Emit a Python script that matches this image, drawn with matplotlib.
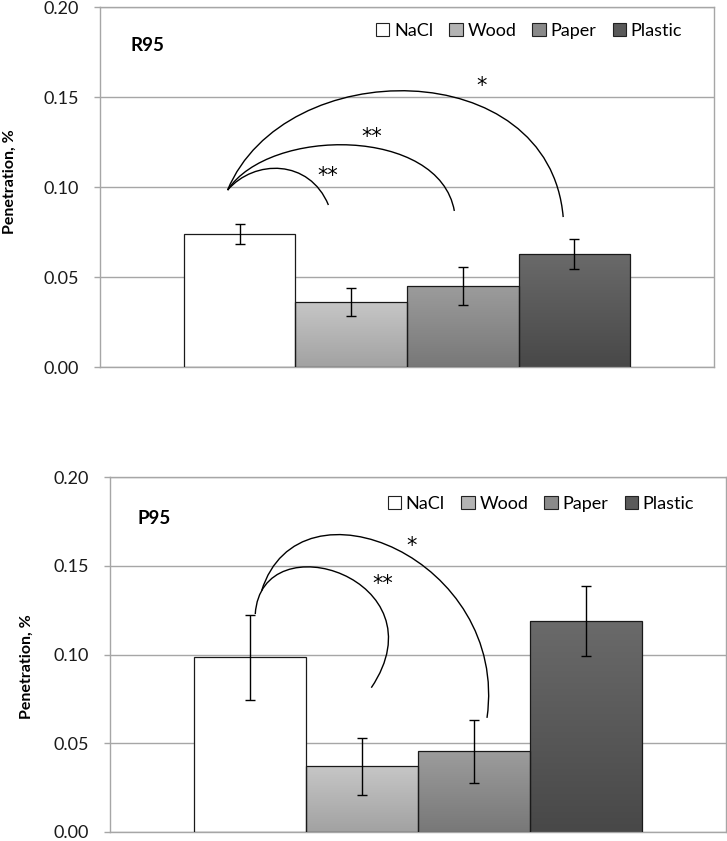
import numpy as np
import matplotlib
matplotlib.use("Agg")
import matplotlib.pyplot as plt
from matplotlib.colors import LinearSegmentedColormap
from matplotlib.patches import Patch, PathPatch
from matplotlib.path import Path

plt.rcParams['font.family'] = ['Lato', 'DejaVu Sans']

# data
materials = ['NaCl', 'Wood', 'Paper', 'Plastic']
r95_mean = [0.074, 0.036, 0.045, 0.063]
r95_err = [0.0055, 0.0077, 0.0108, 0.0083]
p95_mean = [0.0985, 0.037, 0.0455, 0.119]
p95_err = [0.024, 0.016, 0.0177, 0.0197]

# bar fills: (top colour, bottom colour)
fills = [('#ffffff', '#ffffff'), ('#c6c6c6', '#a2a2a2'),
         ('#9c9c9c', '#787878'), ('#6a6a6a', '#484848')]
legend_fill = ['#ffffff', '#b4b4b4', '#8a8a8a', '#5a5a5a']

# significance arcs: bezier control points in data units, plus star labels
r95_arcs = [
    [(-0.107, 0.0983), (0.134, 0.1156), (0.626, 0.1156), (0.796, 0.090)],
    [(-0.107, 0.0983), (0.268, 0.1336), (1.790, 0.1336), (1.924, 0.0867)],
    [(-0.107, 0.0983), (0.403, 0.1742), (2.774, 0.1742), (2.899, 0.0833)],
]
r95_stars = [(0.79, 0.106, '**'), (1.18, 0.128, '**'), (2.17, 0.156, '*')]
p95_arcs = [
    [(0.047, 0.1228), (0.101, 0.1761), (1.735, 0.1425), (1.083, 0.0813)],
    [(0.104, 0.1359), (0.440, 0.2041), (2.315, 0.1537), (2.116, 0.0643)],
]
p95_stars = [(1.184, 0.1397, '**'), (1.443, 0.1611, '*')]

GRID = '#a6a6a6'


def draw_panel(ax, means, errs, title, arcs, stars, title_pos, ylab_pos, leg_anchor):
    x = np.arange(len(materials))
    bars = ax.bar(x, means, width=1.0, color='none', edgecolor='#1a1a1a',
                  linewidth=0.9, zorder=3)
    for b, (ctop, cbot) in zip(bars, fills):
        cmap = LinearSegmentedColormap.from_list('g', [cbot, ctop])
        grad = np.linspace(0, 1, 100).reshape(-1, 1)
        im = ax.imshow(grad, cmap=cmap, origin='lower', aspect='auto',
                       extent=[b.get_x(), b.get_x() + b.get_width(), 0, b.get_height()],
                       zorder=2)
        im.set_clip_path(b)
    ax.errorbar(x, means, yerr=errs, fmt='none', ecolor='black', elinewidth=1.0,
                capsize=3.3, capthick=1.0, zorder=4)

    for pts in arcs:
        path = Path(pts, [Path.MOVETO, Path.CURVE4, Path.CURVE4, Path.CURVE4])
        ax.add_patch(PathPatch(path, fill=False, edgecolor='black', linewidth=1.0,
                               zorder=5))
    for sx, sy, s in stars:
        ax.text(sx, sy, s, ha='center', va='center', fontsize=15,
                fontfamily='DejaVu Sans', zorder=6)

    ax.set_xlim(-1.25, 4.25)
    ax.set_ylim(0, 0.20)
    ax.set_yticks([0, 0.05, 0.10, 0.15, 0.20])
    ax.set_yticklabels(['0.00', '0.05', '0.10', '0.15', '0.20'])
    ax.set_xticks([])
    ax.yaxis.grid(True, color=GRID, linewidth=1.0, zorder=0)
    ax.set_axisbelow(True)
    for sp in ax.spines.values():
        sp.set_color(GRID)
        sp.set_linewidth(1.0)
    ax.tick_params(axis='y', length=4, width=1.0, color=GRID, pad=11,
                   labelsize=13, labelcolor='#1a1a1a')

    ax.set_ylabel('Penetration, %', fontsize=11.5, fontweight='bold')
    ax.yaxis.set_label_coords(*ylab_pos)
    ax.text(title_pos[0], title_pos[1], title, transform=ax.transAxes,
            fontsize=13.5, fontweight='bold', va='center', ha='left')

    handles = [Patch(facecolor=c, edgecolor='#222222', linewidth=0.8) for c in legend_fill]
    ax.legend(handles, materials, loc='center right', bbox_to_anchor=leg_anchor,
              ncol=4, frameon=False, fontsize=13, handlelength=0.75,
              handleheight=0.75, handletextpad=0.25, columnspacing=0.9,
              borderaxespad=0)


fig = plt.figure(figsize=(7.27, 8.41), dpi=100)
ax1 = fig.add_axes([100 / 727, 1 - 367 / 841, 614 / 727, 360 / 841])
ax2 = fig.add_axes([110 / 727, 1 - 832 / 841, 616 / 727, 355 / 841])

draw_panel(ax1, r95_mean, r95_err, 'R95', r95_arcs, r95_stars,
           (0.049, 0.894), (-0.136, 0.514), (0.96, 0.933))
draw_panel(ax2, p95_mean, p95_err, 'P95', p95_arcs, p95_stars,
           (0.045, 0.882), (-0.124, 0.465), (0.96, 0.924))

fig.savefig('out.png', dpi=100)
